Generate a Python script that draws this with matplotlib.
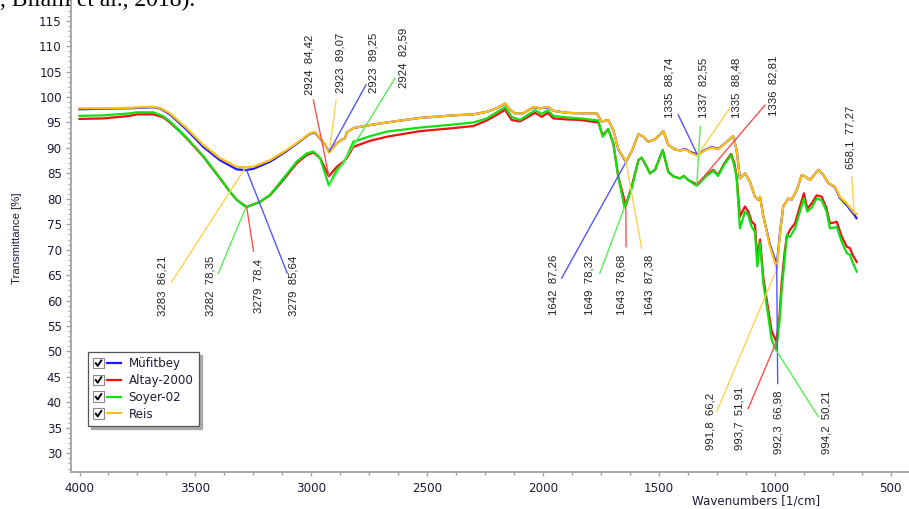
import matplotlib
matplotlib.use("Agg")
import matplotlib.pyplot as plt
from matplotlib.ticker import MultipleLocator, FixedLocator
from matplotlib.legend_handler import HandlerLine2D
from matplotlib.patches import Rectangle
from matplotlib.lines import Line2D

plt.rcParams['font.family'] = ['DejaVu Sans']

# ---------------- spectra ----------------
series_names = ['Müfitbey', 'Altay-2000', 'Soyer-02', 'Reis']
series_colors = ['#1a1aff', '#f01010', '#10e010', '#ffc010']

reis_wn = [4000, 3900, 3780, 3683, 3650, 3610, 3538, 3466, 3394, 3322, 3283, 3250,
           3178, 3106, 3034, 3006, 2984, 2948, 2923, 2890, 2869, 2855, 2847, 2819,
           2747, 2675, 2531, 2387, 2301, 2243, 2200, 2164, 2143, 2121, 2086, 2042,
           2013, 1978, 1956, 1898, 1841, 1769, 1747, 1719, 1697, 1676, 1643, 1618,
           1589, 1567, 1546, 1517, 1481, 1460, 1431, 1409, 1387, 1366, 1335, 1302,
           1273, 1244, 1208, 1180, 1165, 1151, 1129, 1108, 1086, 1072, 1064, 1050,
           1021, 991.8, 978, 964, 942, 928, 906, 884, 870, 848, 813, 791, 770, 741,
           720, 691, 658.1, 648]
reis_t = [97.8, 97.8, 97.9, 98.1, 97.8, 96.8, 93.9, 90.6, 88.0, 86.3, 86.21, 86.3,
          87.6, 89.6, 91.9, 92.9, 93.1, 91.2, 89.07, 90.9, 91.6, 91.9, 93.0, 93.9,
          94.5, 95.0, 95.9, 96.4, 96.6, 97.1, 97.8, 98.8, 97.5, 96.8, 96.8, 98.1,
          97.8, 98.1, 97.3, 96.9, 96.8, 96.8, 95.2, 95.5, 93.5, 89.9, 87.38, 89.3,
          92.7, 92.2, 91.2, 91.7, 93.3, 90.6, 89.7, 89.5, 89.7, 89.1, 88.48, 89.5,
          90.1, 89.7, 91.2, 92.3, 89.6, 84.0, 85.0, 83.4, 80.4, 79.8, 80.4, 76.5,
          70.6, 66.2, 73.2, 78.5, 80.1, 79.8, 81.7, 84.7, 84.4, 83.7, 85.7, 84.7,
          83.1, 82.4, 80.4, 79.1, 77.27, 77.0]

mufitbey_wn = reis_wn
mufitbey_t = [97.6, 97.7, 97.8, 98.0, 97.7, 96.6, 93.6, 90.2, 87.6, 85.8, 85.64, 85.9,
              87.3, 89.4, 91.8, 92.8, 93.0, 91.1, 89.25, 90.9, 91.6, 91.9, 93.0, 93.9,
              94.5, 95.0, 95.9, 96.4, 96.6, 97.1, 97.8, 98.7, 97.5, 96.8, 96.8, 98.0,
              97.8, 98.0, 97.3, 96.9, 96.8, 96.8, 95.2, 95.5, 93.5, 89.8, 87.26, 89.3,
              92.7, 92.2, 91.2, 91.7, 93.3, 90.6, 89.7, 89.5, 89.8, 89.2, 88.74, 89.6,
              90.2, 89.8, 91.2, 92.3, 89.6, 84.0, 85.0, 83.4, 80.4, 79.8, 80.4, 76.6,
              70.9, 66.98, 73.4, 78.5, 80.1, 79.8, 81.7, 84.7, 84.4, 83.7, 85.7, 84.7,
              83.1, 82.3, 80.2, 78.8, 76.9, 76.2]

lower_wn_a = [4000, 3897, 3782, 3753, 3682, 3638, 3610, 3566, 3538, 3466, 3394, 3351,
              3322]
altay_wn = lower_wn_a + [3279, 3221, 3178, 3121, 3063, 3020, 2991, 2962, 2924, 2890, 2862,
           2847, 2819, 2747, 2675, 2531, 2387, 2301, 2243, 2200, 2164, 2136, 2100,
           2035, 2006, 1980, 1956, 1898, 1841, 1762, 1743, 1719, 1697, 1676, 1643,
           1618, 1589, 1575, 1553, 1539, 1517, 1484, 1460, 1438, 1409, 1393, 1374,
           1336, 1295, 1266, 1245, 1218, 1189, 1175, 1165, 1151, 1129, 1115, 1100,
           1086, 1076, 1064, 1050, 1028, 1014, 993.7, 980, 971, 957, 949, 935, 913,
           892, 875, 860, 841, 820, 798, 777, 763, 748, 733, 712, 690, 676, 665, 647]
altay_t = [95.7, 95.8, 96.3, 96.6, 96.6, 96.0, 95.0, 93.2, 91.9, 88.3, 84.0, 81.4,
           79.8, 78.4, 79.4, 80.7, 83.7, 87.0, 88.6, 89.1, 88.0, 84.42, 86.3, 87.3,
           88.0, 90.2, 91.4, 92.2, 93.3, 93.9, 94.3, 95.4, 96.5, 97.5, 95.5, 95.2,
           96.9, 96.1, 96.9, 95.8, 95.6, 95.5, 95.0, 92.5, 93.7, 90.9, 84.4, 78.68,
           82.4, 87.6, 88.1, 86.3, 85.0, 85.7, 89.6, 85.3, 84.4, 84.0, 84.5, 83.7,
           82.81, 84.7, 85.7, 84.7, 87.0, 88.8, 87.0, 84.4, 76.5, 78.5, 77.5, 75.5,
           74.9, 68.5, 72.0, 64.5, 58.0, 54.0, 51.91, 57.0, 63.5, 69.9, 72.5, 73.9, 75.2,
           78.5, 81.1, 78.1, 79.1, 80.7, 80.4, 78.1, 75.2, 75.3, 75.5, 72.6, 70.6, 70.3,
           69.0, 67.6]

soyer_wn = lower_wn_a + [3282, 3221, 3178, 3121, 3063, 3020, 2991, 2962, 2924, 2890, 2862,
           2847, 2819, 2747, 2675, 2531, 2387, 2301, 2243, 2200, 2164, 2136, 2100,
           2035, 2006, 1980, 1956, 1898, 1841, 1762, 1743, 1719, 1697, 1676, 1649,
           1618, 1589, 1575, 1553, 1539, 1517, 1484, 1460, 1438, 1409, 1393, 1374,
           1337, 1295, 1266, 1245, 1218, 1189, 1175, 1165, 1151, 1129, 1115, 1100,
           1086, 1076, 1064, 1050, 1028, 1014, 994.2, 980, 971, 957, 949, 935, 913,
           892, 875, 860, 841, 820, 798, 777, 763, 748, 733, 712, 690, 676, 665, 647]
soyer_t = [96.3, 96.4, 96.8, 97.0, 97.0, 96.2, 95.2, 93.3, 92.0, 88.4, 84.1, 81.4,
           79.8, 78.35, 79.4, 80.8, 84.0, 87.3, 88.9, 89.3, 88.0, 82.59, 85.7, 87.0,
           88.3, 91.2, 92.3, 93.2, 94.0, 94.6, 95.0, 95.8, 97.0, 98.0, 96.1, 95.5,
           97.4, 96.7, 97.4, 96.3, 96.0, 95.8, 95.4, 92.2, 93.7, 90.9, 84.4, 78.32,
           82.0, 87.6, 88.1, 86.3, 85.0, 85.7, 89.6, 85.3, 84.4, 84.0, 84.5, 83.7,
           82.55, 84.5, 85.5, 84.5, 86.8, 88.6, 86.5, 84.0, 74.2, 77.5, 76.8, 74.5,
           73.5, 66.7, 71.3, 63.4, 56.8, 52.3, 50.21, 56.0, 62.0, 68.5, 72.9, 72.5, 74.2,
           77.5, 80.1, 77.5, 78.3, 80.1, 79.7, 77.5, 74.2, 74.3, 74.5, 71.6, 69.3, 69.0,
           67.5, 65.7]

series_wn = [mufitbey_wn, altay_wn, soyer_wn, reis_wn]
series_t = [mufitbey_t, altay_t, soyer_t, reis_t]

# ---------------- picked peaks ----------------
peak_series = ['Reis', 'Soyer-02', 'Altay-2000', 'Müfitbey',
               'Altay-2000', 'Reis', 'Müfitbey', 'Soyer-02',
               'Müfitbey', 'Soyer-02', 'Altay-2000', 'Reis',
               'Müfitbey', 'Soyer-02', 'Reis', 'Altay-2000',
               'Reis', 'Altay-2000', 'Müfitbey', 'Soyer-02',
               'Reis']
peak_wn = [3283, 3282, 3279, 3279, 2924, 2923, 2923, 2924,
           1642, 1649, 1643, 1643, 1335, 1337, 1335, 1336,
           991.8, 993.7, 992.3, 994.2, 658.1]
peak_val = [86.21, 78.35, 78.4, 85.64, 84.42, 89.07, 89.25, 82.59,
            87.26, 78.32, 78.68, 87.38, 88.74, 82.55, 88.48, 82.81,
            66.2, 51.91, 66.98, 50.21, 77.27]

# label placement (text centre, leader end) in data units
label_pos = [(3640, 62.9), (3437, 62.9), (3228, 62.8), (3078, 62.9),
             (3009, 106.3), (2876, 106.7), (2730, 106.7), (2603, 107.7),
             (1956, 63.1), (1798, 63.1), (1661, 63.1), (1539, 63.1),
             (1453, 101.8), (1309, 101.8), (1165, 101.8), (1007, 102.2),
             (1280, 36.3), (1151, 36.9), (985, 36.1), (777, 36.1),
             (676, 92.0)]
leader_end = [(3602, 63.7), (3401, 65.4), (3249, 69.7), (3104, 65.4),
              (2991, 99.4), (2893, 99.4), (2764, 102.4), (2639, 103.7),
              (1920, 64.4), (1755, 65.4), (1642, 70.6), (1575, 70.3),
              (1417, 96.5), (1322, 94.2), (1195, 97.8), (1043, 98.4),
              (1251, 38.2), (1115, 38.8), (988, 43.7), (813, 37.2),
              (669, 84.3)]
leader_colors = {'Müfitbey': '#5555ff', 'Altay-2000': '#ff5050',
                 'Soyer-02': '#55ee55', 'Reis': '#ffd24a'}

x_ticks = [4000, 3500, 3000, 2500, 2000, 1500, 1000, 500]
y_ticks = list(range(30, 116, 5))


def fmt(v):
    return f"{v:g}".replace('.', ',')


class HandlerCheckLine(HandlerLine2D):
    """Legend handle: a ticked check box followed by a short line."""

    def create_artists(self, legend, orig_handle, xdescent, ydescent,
                       width, height, fontsize, trans):
        box = 7.4
        x0 = -xdescent
        y0 = -ydescent + (height - box) / 2.0
        rect = Rectangle((x0, y0), box, box, facecolor='white',
                         edgecolor='#8a8a8a', lw=0.8, transform=trans)
        tick = Line2D([x0 + 0.18 * box, x0 + 0.42 * box, x0 + 0.82 * box],
                      [y0 + 0.55 * box, y0 + 0.22 * box, y0 + 0.82 * box],
                      color='black', lw=1.4, solid_capstyle='butt',
                      transform=trans)
        seg = Line2D([x0 + box + 2.2, x0 + width], [y0 + box / 2.0] * 2,
                     color=orig_handle.get_color(), lw=1.6, transform=trans)
        return [rect, tick, seg]


fig = plt.figure(figsize=(9.09, 5.09), dpi=100)
ax = fig.add_axes([71 / 909, (509 - 471.7) / 509, 838 / 909, 471.7 / 509])

handles = []
for name, col, wn, t in zip(series_names, series_colors, series_wn, series_t):
    ln, = ax.plot(wn, t, color=col, lw=1.6, label=name, solid_joinstyle='round')
    handles.append(ln)

for s, pw, pv, (tx, ty), (ex, ey) in zip(peak_series, peak_wn, peak_val,
                                         label_pos, leader_end):
    ax.plot([pw, ex], [pv, ey], color=leader_colors[s], lw=1.0, zorder=3)
    ax.text(tx, ty, f"{fmt(pw)}  {fmt(pv)}", rotation=90, ha='center',
            va='center', fontsize=8.2, family='Liberation Sans',
            color='#222222', zorder=4)

ax.set_xlim(4036.7, 421.5)
ax.set_ylim(26.38, 119.07)

ax.xaxis.set_major_locator(FixedLocator(x_ticks))
ax.xaxis.set_minor_locator(MultipleLocator(125))
ax.yaxis.set_major_locator(FixedLocator(y_ticks))
ax.yaxis.set_minor_locator(FixedLocator(list(range(27, 120))))

for sp in ('top', 'right'):
    ax.spines[sp].set_visible(False)
for sp in ('left', 'bottom'):
    ax.spines[sp].set_color('#a8a8a8')
    ax.spines[sp].set_linewidth(1.4)

ax.tick_params(axis='both', which='both', direction='out', color='#a0a0a0',
               labelcolor='#1c1c38', labelsize=8.6)
ax.tick_params(axis='x', which='major', length=3.0, width=1.0, pad=4.5)
ax.tick_params(axis='x', which='minor', length=1.8, width=1.0)
ax.tick_params(axis='y', which='major', length=3.6, width=1.0, pad=3.0)
ax.tick_params(axis='y', which='minor', length=2.0, width=0.8)

ax.set_ylabel('Transmittance [%]', family='Liberation Sans', fontsize=8.2,
              color='#1c1c38')
ax.yaxis.set_label_coords(-0.058, 0.495)
ax.set_xlabel('Wavenumbers [1/cm]', fontsize=8.6, color='#1c1c38')
ax.xaxis.set_label_coords(0.8174, -0.0615)
ax.xaxis.label.set_va('center')

leg = ax.legend(handles=handles, loc='lower left',
                bbox_to_anchor=(0.0203, 0.0969), borderaxespad=0,
                handler_map={Line2D: HandlerCheckLine()},
                fontsize=8.6, handlelength=2.35, handletextpad=0.6,
                labelspacing=0.32, borderpad=0.45, fancybox=False,
                shadow={'ox': 2, 'oy': -2, 'color': '#9a9a9a', 'alpha': 0.8},
                framealpha=1.0, edgecolor='#555555')
leg.get_frame().set_linewidth(0.9)
for txt in leg.get_texts():
    txt.set_color('#1c1c38')

# running text of the page above the chart, cut by the top edge
fig.text(0.0, 1 - 6.5 / 509, ", Bilalli et al., 2018).", family='Liberation Serif',
         fontsize=17, va='baseline', ha='left', color='black')

fig.savefig('out.png', dpi=100, facecolor='white')
